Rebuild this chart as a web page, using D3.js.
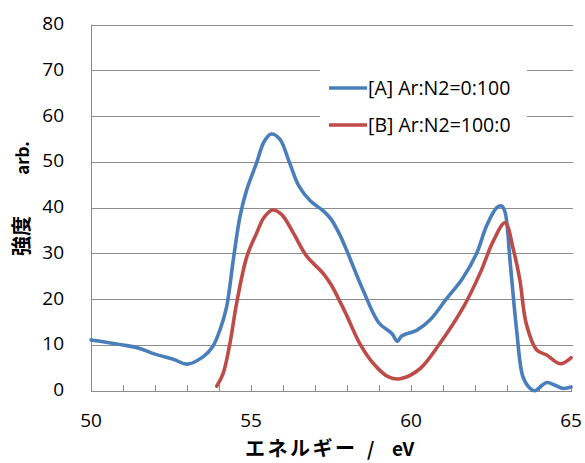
<!DOCTYPE html>
<html>
<head>
<meta charset="utf-8">
<script src="https://cdn.jsdelivr.net/npm/d3@7"></script>
<style>
    html, body { margin: 0; padding: 0; background: #fff; }
    svg { display: block; font-family: "Open Sans", "Noto Sans", sans-serif; }
    .grid line { stroke: #8c8c8c; stroke-width: 1; }
    .axis-line { stroke: #8c8c8c; stroke-width: 1; }
    .tick-label { font-size: 19px; fill: #000; }
    .legend-label { font-size: 19.5px; fill: #000; }
    .title { font-weight: bold; fill: #000; font-family: "Noto Sans CJK JP", "Open Sans", sans-serif; }
    .series { fill: none; stroke-width: 3.6; stroke-linejoin: round; stroke-linecap: round; }
</style>
</head>
<body>
<div id="chart"></div>
<script>
(function () {
    "use strict";

    const width = 585;
    const height = 463;

    // values
    const energyA = [50.0, 51.0, 51.5, 52.0, 52.6, 53.0, 53.5, 53.8, 54.03, 54.24, 54.45, 54.66, 54.87,
        55.18, 55.4, 55.63, 55.9, 56.2, 56.5, 56.85, 57.26, 57.5, 57.78, 58.0, 58.5, 59.0, 59.4, 59.58,
        59.7, 60.2, 60.6, 61.1, 61.6, 62.05, 62.36, 62.68, 62.83, 62.94, 63.1, 63.3, 63.5, 63.72, 63.87,
        64.24, 64.5, 64.76, 65.0];
    const intensityA = [11.1, 10.0, 9.3, 8.0, 6.8, 5.8, 7.4, 9.6, 13.3, 18.4, 28.8, 38.2, 44.0,
        49.9, 54.3, 56.1, 55.0, 49.9, 44.7, 41.5, 39.3, 37.5, 34.0, 30.5, 22.0, 14.8, 12.5, 10.8,
        11.9, 13.3, 15.5, 20.0, 24.4, 30.0, 36.0, 40.0, 40.4, 39.0, 28.0, 13.3, 3.0, 0.5, 0.0,
        1.8, 1.2, 0.5, 0.8];

    const energyB = [53.93, 54.13, 54.34, 54.55, 54.87, 55.18, 55.4, 55.67, 55.96, 56.32, 56.74, 57.26,
        57.5, 57.8, 58.0, 58.4, 58.83, 59.3, 59.66, 60.28, 60.9, 61.64, 62.16, 62.57, 62.94, 63.2, 63.4,
        63.6, 63.93, 64.24, 64.66, 65.0];
    const intensityB = [1.0, 3.8, 10.3, 19.1, 29.3, 34.5, 37.8, 39.5, 38.5, 34.5, 29.4, 25.6,
        23.2, 19.2, 16.3, 10.3, 5.9, 3.0, 2.6, 4.8, 10.3, 18.3, 25.7, 32.7, 36.7, 30.8, 24.3,
        14.7, 8.9, 7.8, 5.9, 7.2];

    const seriesNames = ["[A] Ar:N2=0:100", "[B] Ar:N2=100:0"];
    const seriesColors = ["#4a7ebb", "#be4b48"];
    const yTicks = [0, 10, 20, 30, 40, 50, 60, 70, 80];
    const xMinorTicks = d3.range(50, 66, 1);
    const xLabelTicks = [50, 55, 60, 65];

    const x = d3.scaleLinear().domain([50, 65]).range([91, 571]);
    const y = d3.scaleLinear().domain([0, 80]).range([390.7, 24.7]);

    const svg = d3.select("#chart").append("svg")
        .attr("width", width)
        .attr("height", height);

    // horizontal gridlines
    svg.append("g")
        .attr("class", "grid")
        .selectAll("line")
        .data(yTicks.filter((d) => d > 0))
        .join("line")
        .attr("x1", x(50))
        .attr("x2", x(65) + 2)
        .attr("y1", (d) => Math.round(y(d)) + 0.5)
        .attr("y2", (d) => Math.round(y(d)) + 0.5);

    // axes
    svg.append("line").attr("class", "axis-line")
        .attr("x1", Math.round(x(50)) + 0.5).attr("x2", Math.round(x(50)) + 0.5)
        .attr("y1", y(80)).attr("y2", Math.round(y(0)) + 0.5);
    svg.append("line").attr("class", "axis-line")
        .attr("x1", x(50)).attr("x2", x(65) + 1)
        .attr("y1", Math.round(y(0)) + 0.5).attr("y2", Math.round(y(0)) + 0.5);

    svg.append("g")
        .selectAll("line")
        .data(xMinorTicks.slice(1))
        .join("line")
        .attr("class", "axis-line")
        .attr("x1", (d) => Math.round(x(d)) + 0.5)
        .attr("x2", (d) => Math.round(x(d)) + 0.5)
        .attr("y1", Math.round(y(0)))
        .attr("y2", Math.round(y(0)) - 6);

    svg.append("g")
        .selectAll("text")
        .data(yTicks)
        .join("text")
        .attr("class", "tick-label")
        .attr("text-anchor", "end")
        .attr("x", 64)
        .attr("y", (d) => y(d) + 5.5)
        .text((d) => d);

    svg.append("g")
        .selectAll("text")
        .data(xLabelTicks)
        .join("text")
        .attr("class", "tick-label")
        .attr("text-anchor", "middle")
        .attr("x", (d) => x(d))
        .attr("y", 427)
        .text((d) => d);

    // series
    const line = d3.line()
        .x((d) => x(d[0]))
        .y((d) => y(d[1]))
        .curve(d3.curveCatmullRom.alpha(0.5));

    const series = [
        d3.zip(energyA, intensityA),
        d3.zip(energyB, intensityB)
    ];

    svg.append("g")
        .selectAll("path")
        .data(series)
        .join("path")
        .attr("class", "series")
        .attr("stroke", (d, i) => seriesColors[i])
        .attr("d", line);

    // legend
    const legend = svg.append("g");
    legend.append("rect")
        .attr("x", 320).attr("y", 62)
        .attr("width", 207).attr("height", 82)
        .attr("fill", "#fff");

    const item = legend.selectAll("g")
        .data(seriesNames)
        .join("g")
        .attr("transform", (d, i) => `translate(0,${88 + i * 37})`);

    item.append("line")
        .attr("x1", 329).attr("x2", 367)
        .attr("y1", 0).attr("y2", 0)
        .attr("stroke", (d, i) => seriesColors[i])
        .attr("stroke-width", 3.6);

    item.append("text")
        .attr("class", "legend-label")
        .attr("x", 368)
        .attr("y", 7)
        .text((d) => d);

    // axis titles
    const xTitle = svg.append("text")
        .attr("class", "title")
        .attr("y", 456);
    xTitle.append("tspan").attr("x", 245).attr("font-size", 20).attr("letter-spacing", 2.5).text("エネルギー");
    xTitle.append("tspan").attr("x", 367).attr("font-size", 19).text("/");
    xTitle.append("tspan").attr("x", 392).attr("font-size", 19).text("eV");

    svg.append("text")
        .attr("class", "title")
        .attr("font-size", 20)
        .attr("text-anchor", "middle")
        .attr("transform", "translate(29,236) rotate(-90)")
        .text("強度");

    svg.append("text")
        .attr("class", "title")
        .attr("font-size", 17)
        .attr("text-anchor", "middle")
        .attr("transform", "translate(29,158) rotate(-90)")
        .text("arb.");
}());
</script>
</body>
</html>
